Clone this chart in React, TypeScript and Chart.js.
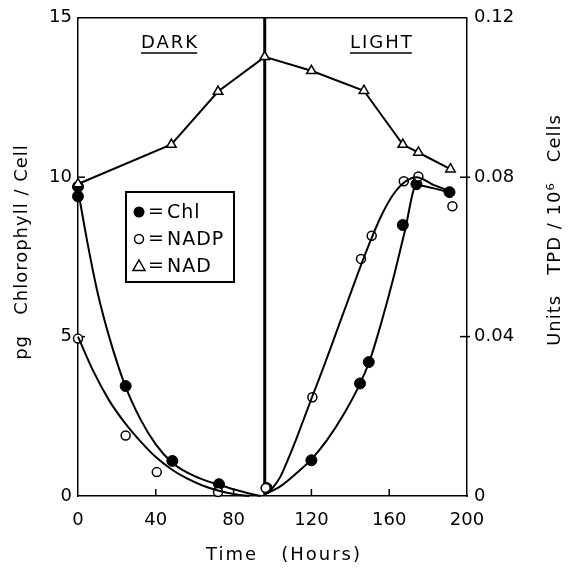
import React, { useEffect, useRef } from 'react';
import { Chart, registerables } from 'chart.js';
Chart.register(...registerables);

// Measured points
const chlHours = [0, 0, 24.5, 48.5, 72.5, 97, 120, 145, 149.5, 167, 174, 191];
const chlValues = [9.4, 9.7, 3.45, 1.1, 0.37, 0.25, 1.12, 3.53, 4.2, 8.5, 9.78, 9.53];
const nadpHours = [0, 24.5, 40.5, 72, 96.5, 120.5, 145.5, 151, 167.5, 175, 192.5];
const nadpValues = [0.0395, 0.0152, 0.006, 0.001, 0.002, 0.0248, 0.0595, 0.0653, 0.079, 0.0802, 0.0727];
const nadHours = [0, 48, 72, 96, 120, 147, 167, 175, 191.5];
const nadValues = [0.0783, 0.0882, 0.1015, 0.1102, 0.1067, 0.1017, 0.0882, 0.0862, 0.082];

// Fitted curves
const chlDarkHours = [0, 5, 10, 16, 24, 32, 40, 48, 56, 64, 72, 80, 88, 94];
const chlDarkValues = [9.6, 7.9, 6.4, 5.0, 3.5, 2.42, 1.62, 1.07, 0.74, 0.52, 0.36, 0.21, 0.08, 0];
const nadpDarkHours = [0, 8, 16, 24, 32, 40, 48, 56, 64, 72, 80, 88];
const nadpDarkValues = [0.04, 0.0312, 0.024, 0.0184, 0.01376, 0.00976, 0.00672, 0.0044, 0.00264, 0.00136, 0.00048, 0];
const chlLightHours = [96, 104, 112, 120, 128, 136, 144, 150, 156, 162, 168, 174, 183, 192];
const chlLightValues = [0.05, 0.3, 0.7, 1.15, 1.75, 2.5, 3.4, 4.25, 5.45, 6.8, 8.3, 9.75, 9.65, 9.5];
const nadpLightHours = [96, 100, 104, 108, 112, 116, 120, 126, 132, 138, 144, 150, 156, 162, 168, 174, 183, 192];
const nadpLightValues = [0.0004, 0.002, 0.0048, 0.0092, 0.014, 0.0192, 0.0244, 0.032, 0.04, 0.048, 0.056, 0.0636, 0.0704, 0.0756, 0.0788, 0.08, 0.078, 0.0764];

const xTicks = [0, 40, 80, 120, 160, 200];
const leftTicks = [0, 5, 10, 15];
const rightTicks = [0, 0.04, 0.08, 0.12];
const dividerHour = 96;
const legendLabels = ['Chl', 'NADP', 'NAD'];
const phaseLabels = ['DARK', 'LIGHT'];
const xTitle = 'Time   (Hours)';
const leftTitle = 'pg   Chlorophyll / Cell';
const rightTitle = 'Units   TPD / 10\u2076   Cells';

const FONT = '"DejaVu Sans", sans-serif';

const pts = (xs: number[], ys: number[]) => xs.map((x, i) => ({ x, y: ys[i] }));

const decor = {
  id: 'decor',
  beforeDatasetsDraw(chart: any) {
    const { ctx, chartArea: a, scales } = chart;
    ctx.save();
    ctx.strokeStyle = '#000';
    ctx.lineWidth = 1.5;
    ctx.beginPath();
    ctx.moveTo(a.left, a.top);
    ctx.lineTo(a.right, a.top);
    ctx.stroke();
    const xv = scales.x.getPixelForValue(dividerHour);
    ctx.lineWidth = 3;
    ctx.beginPath();
    ctx.moveTo(xv, a.top);
    ctx.lineTo(xv, a.bottom);
    ctx.stroke();
    // inward ticks
    ctx.lineWidth = 1.5;
    const L = 7;
    xTicks.slice(1, -1).forEach((t) => {
      const p = scales.x.getPixelForValue(t);
      ctx.beginPath();
      ctx.moveTo(p, a.bottom);
      ctx.lineTo(p, a.bottom - L);
      ctx.stroke();
    });
    leftTicks.slice(1, -1).forEach((t) => {
      const p = scales.y.getPixelForValue(t);
      ctx.beginPath();
      ctx.moveTo(a.left, p);
      ctx.lineTo(a.left + L, p);
      ctx.stroke();
    });
    rightTicks.slice(1, -1).forEach((t) => {
      const p = scales.y2.getPixelForValue(t);
      ctx.beginPath();
      ctx.moveTo(a.right - L, p);
      ctx.lineTo(a.right + 3, p);
      ctx.stroke();
    });
    ctx.restore();
  },
  afterDraw(chart: any) {
    const { ctx } = chart;
    ctx.save();
    ctx.fillStyle = '#000';
    ctx.strokeStyle = '#000';
    // phase labels
    ctx.font = `18px ${FONT}`;
    (ctx as any).letterSpacing = '2px';
    ctx.textAlign = 'left';
    ctx.textBaseline = 'alphabetic';
    const phaseX = [141, 350];
    phaseLabels.forEach((lab, i) => {
      ctx.fillText(lab, phaseX[i], 48);
      const w = ctx.measureText(lab).width - 2;
      ctx.lineWidth = 1.5;
      ctx.beginPath();
      ctx.moveTo(phaseX[i], 53);
      ctx.lineTo(phaseX[i] + w, 53);
      ctx.stroke();
    });
    // legend box
    const bx = 126, by = 192, bw = 108, bh = 90;
    ctx.fillStyle = '#fff';
    ctx.fillRect(bx, by, bw, bh);
    ctx.fillStyle = '#000';
    ctx.lineWidth = 2;
    ctx.strokeRect(bx, by, bw, bh);
    const rows = [212, 239, 266];
    ctx.font = `19px ${FONT}`;
    (ctx as any).letterSpacing = '1px';
    ctx.textBaseline = 'middle';
    legendLabels.forEach((lab, i) => {
      const cy = rows[i];
      const mx = 139;
      ctx.lineWidth = 1.5;
      ctx.beginPath();
      if (i === 0) {
        ctx.arc(mx, cy, 5.5, 0, Math.PI * 2);
        ctx.fill();
      } else if (i === 1) {
        ctx.arc(mx, cy, 4.5, 0, Math.PI * 2);
        ctx.stroke();
      } else {
        ctx.moveTo(mx, cy - 6);
        ctx.lineTo(mx + 6, cy + 4.5);
        ctx.lineTo(mx - 6, cy + 4.5);
        ctx.closePath();
        ctx.stroke();
      }
      ctx.fillText('=', 148, cy);
      ctx.fillText(lab, 167, cy + 1);
    });
    // axis titles
    ctx.font = `18px ${FONT}`;
    (ctx as any).letterSpacing = '2px';
    ctx.textAlign = 'center';
    ctx.textBaseline = 'middle';
    ctx.fillText(xTitle, 284, 555);
    (ctx as any).letterSpacing = '1px';
    ctx.save();
    ctx.translate(22, 252);
    ctx.rotate(-Math.PI / 2);
    ctx.fillText(leftTitle, 0, 0);
    ctx.restore();
    ctx.save();
    ctx.translate(555, 230);
    ctx.rotate(-Math.PI / 2);
    ctx.fillText(rightTitle, 0, 0);
    ctx.restore();
    (ctx as any).letterSpacing = '0px';
    ctx.restore();
  },
};

export default function App() {
  const ref = useRef<HTMLCanvasElement>(null);
  useEffect(() => {
    if (!ref.current) return;
    const curve = (data: any[], axis: string) => ({
      data,
      yAxisID: axis,
      borderColor: '#000',
      borderWidth: 2,
      pointRadius: 0,
      cubicInterpolationMode: 'monotone',
      fill: false,
      clip: false,
    });
    const chart = new Chart(ref.current, {
      type: 'line',
      data: {
        datasets: [
          curve(pts(chlDarkHours, chlDarkValues), 'y') as any,
          curve(pts(nadpDarkHours, nadpDarkValues), 'y2') as any,
          curve(pts(chlLightHours, chlLightValues), 'y') as any,
          curve(pts(nadpLightHours, nadpLightValues), 'y2') as any,
          {
            label: 'NAD',
            data: pts(nadHours, nadValues),
            yAxisID: 'y2',
            borderColor: '#000',
            borderWidth: 2,
            tension: 0,
            pointStyle: 'triangle',
            pointRadius: 5.5,
            pointBackgroundColor: '#fff',
            pointBorderColor: '#000',
            pointBorderWidth: 1.5,
            clip: false,
          } as any,
          {
            label: 'NADP',
            data: pts(nadpHours, nadpValues),
            yAxisID: 'y2',
            showLine: false,
            pointStyle: 'circle',
            pointRadius: 4.5,
            pointBackgroundColor: '#fff',
            pointBorderColor: '#000',
            pointBorderWidth: 1.5,
            clip: false,
          } as any,
          {
            label: 'Chl',
            data: pts(chlHours, chlValues),
            yAxisID: 'y',
            showLine: false,
            pointStyle: 'circle',
            pointRadius: 5.5,
            pointBackgroundColor: '#000',
            pointBorderColor: '#000',
            pointBorderWidth: 1,
            clip: false,
          } as any,
        ],
      },
      options: {
        animation: false,
        responsive: false,
        layout: { padding: { top: 16, left: 0, right: 0, bottom: 0 } },
        plugins: { legend: { display: false }, tooltip: { enabled: false } },
        scales: {
          x: {
            type: 'linear',
            min: 0,
            max: 200,
            afterFit: (s: any) => { s.height = 72; },
            afterBuildTicks: (s: any) => { s.ticks = xTicks.map((v) => ({ value: v })); },
            grid: { display: false, drawTicks: false },
            border: { display: true, color: '#000', width: 1.5 },
            ticks: { color: '#000', padding: 14, font: { family: FONT, size: 18 }, maxRotation: 0 },
          },
          y: {
            type: 'linear',
            position: 'left',
            min: 0,
            max: 15,
            afterFit: (s: any) => { s.width = 78; },
            afterBuildTicks: (s: any) => { s.ticks = leftTicks.map((v) => ({ value: v })); },
            grid: { display: false, drawTicks: false },
            border: { display: true, color: '#000', width: 1.5 },
            ticks: { color: '#000', padding: 6, font: { family: FONT, size: 18 } },
          },
          y2: {
            type: 'linear',
            position: 'right',
            min: 0,
            max: 0.12,
            afterFit: (s: any) => { s.width = 104; },
            afterBuildTicks: (s: any) => { s.ticks = rightTicks.map((v) => ({ value: v })); },
            grid: { display: false, drawTicks: false },
            border: { display: true, color: '#000', width: 1.5 },
            ticks: {
              color: '#000',
              padding: 7,
              font: { family: FONT, size: 18 },
              callback: (v: any) => (v === 0 ? '0' : Number(v).toFixed(2)),
            },
          },
        },
      },
      plugins: [decor],
    });
    return () => chart.destroy();
  }, []);
  return (
    <div style={{ position: 'fixed', left: 0, top: 0, width: 571, height: 568, background: '#fff' }}>
      <canvas ref={ref} width={571} height={568} />
    </div>
  );
}
